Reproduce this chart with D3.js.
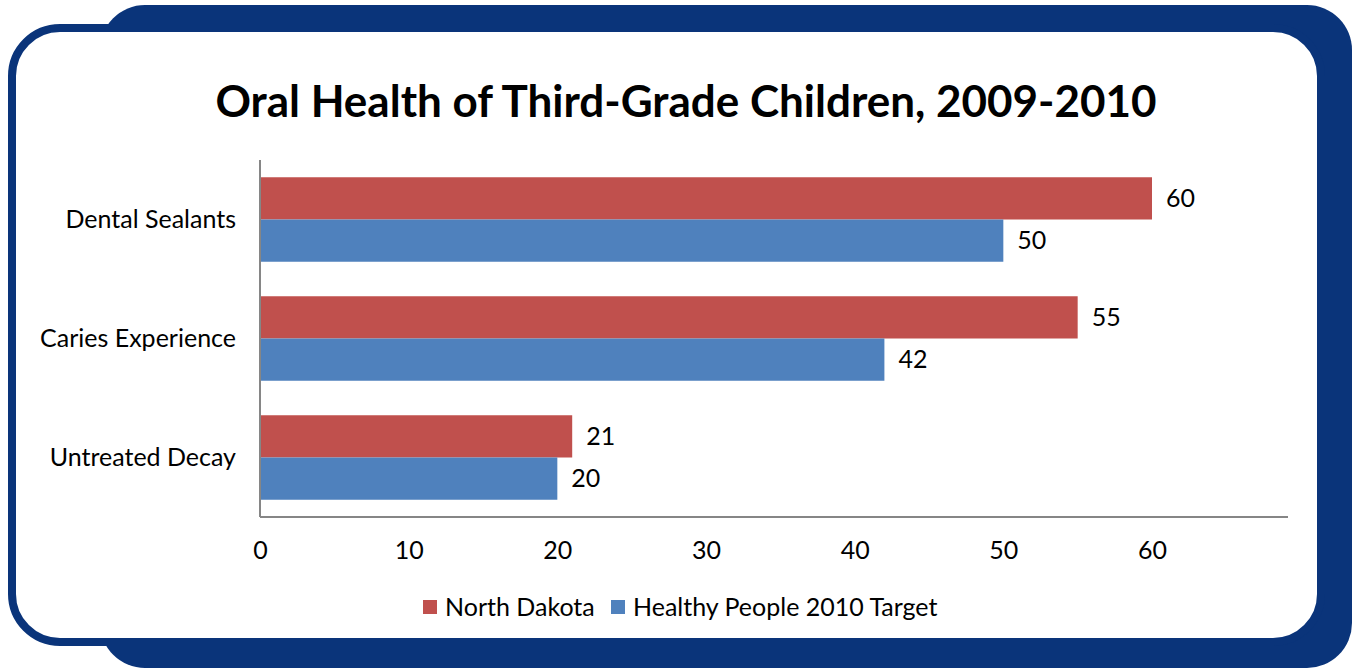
<!DOCTYPE html>
<html>
<head>
<meta charset="utf-8">
<script src="https://cdn.jsdelivr.net/npm/d3@7"></script>
<style>
    body { margin: 0; background: #fff; }
    text { font-family: Lato, "Open Sans", sans-serif; fill: #000; }
</style>
</head>
<body>
<svg id="chart" width="1357" height="669"></svg>
<script>
// данные диаграммы
var categories = ["Dental Sealants", "Caries Experience", "Untreated Decay"];
var seriesNames = ["North Dakota", "Healthy People 2010 Target"];
var northDakota = [60, 55, 21];
var hpTarget = [50, 42, 20];
var xTicks = [0, 10, 20, 30, 40, 50, 60];
var colors = ["#C0504D", "#4F81BD"];

var svg = d3.select("#chart");
var navy = "#0A347A";
var fs = 25;

// рамка: задняя плашка + белая панель
svg.append("rect")
    .attr("x", 100).attr("y", 5)
    .attr("width", 1252).attr("height", 663)
    .attr("rx", 45).attr("ry", 45)
    .attr("fill", navy);

svg.append("rect")
    .attr("x", 12).attr("y", 28)
    .attr("width", 1309).attr("height", 614)
    .attr("rx", 48).attr("ry", 48)
    .attr("fill", "#fff")
    .attr("stroke", navy)
    .attr("stroke-width", 8);

svg.append("text")
    .attr("x", 686).attr("y", 117)
    .attr("text-anchor", "middle")
    .attr("font-size", 44)
    .attr("font-weight", "bold")
    .text("Oral Health of Third-Grade Children, 2009-2010");

///////////////////////
// Шкалы
///////////////////////
var plotL = 260, plotR = 1288, plotT = 160, plotB = 517;

var x = d3.scaleLinear().domain([0, 60]).range([plotL, 1152]);

var y = d3.scaleBand().domain(categories).range([plotT, plotB])
    .paddingInner(0.29).paddingOuter(0.145);

var ySub = d3.scaleBand().domain(seriesNames).range([0, y.bandwidth()]);

var rows = categories.map(function(c, i) {
    return {cat: c, values: [northDakota[i], hpTarget[i]]};
});

var g = svg.append("g");

var groups = g.selectAll(".grp")
    .data(rows)
    .enter().append("g")
    .attr("class", "grp")
    .attr("transform", function(d) { return "translate(0," + y(d.cat) + ")"; });

var bars = groups.selectAll("g.bar")
    .data(function(d) {
        return d.values.map(function(v, j) { return {name: seriesNames[j], v: v, j: j}; });
    })
    .enter().append("g").attr("class", "bar");

bars.append("rect")
    .attr("x", x(0))
    .attr("y", function(d) { return ySub(d.name); })
    .attr("width", function(d) { return x(d.v) - x(0); })
    .attr("height", ySub.bandwidth())
    .attr("fill", function(d) { return colors[d.j]; });

bars.append("text")
    .attr("x", function(d) { return x(d.v) + 14; })
    .attr("y", function(d) { return ySub(d.name) + ySub.bandwidth() / 2; })
    .attr("dy", "0.35em")
    .attr("font-size", fs)
    .text(function(d) { return d.v; });

// оси
var xAxis = svg.append("g")
    .attr("transform", "translate(0," + plotB + ")")
    .call(d3.axisBottom(x).tickValues(xTicks).tickSize(0).tickPadding(24));
xAxis.select(".domain").remove();
xAxis.selectAll("text")
    .attr("font-size", fs)
    .attr("font-family", "Lato, 'Open Sans', sans-serif")
    .attr("fill", "#000");

svg.append("line")
    .attr("x1", plotL).attr("x2", plotR)
    .attr("y1", plotB).attr("y2", plotB)
    .attr("stroke", "#868686").attr("stroke-width", 2);

var yAxis = svg.append("g")
    .attr("transform", "translate(" + plotL + ",0)")
    .call(d3.axisLeft(y).tickSize(0).tickPadding(24));
yAxis.select(".domain").remove();
yAxis.selectAll("text")
    .attr("font-size", fs)
    .attr("font-family", "Lato, 'Open Sans', sans-serif")
    .attr("fill", "#000");

svg.append("line")
    .attr("x1", plotL).attr("x2", plotL)
    .attr("y1", plotT).attr("y2", plotB)
    .attr("stroke", "#868686").attr("stroke-width", 2);

///////////////////////
// Легенда
///////////////////////
var legendX = [423, 611];
var legend = svg.selectAll(".legend")
    .data(seriesNames)
    .enter().append("g")
    .attr("class", "legend")
    .attr("transform", function(d, i) { return "translate(" + legendX[i] + ",600)"; });

legend.append("rect")
    .attr("width", 14).attr("height", 14)
    .attr("fill", function(d, i) { return colors[i]; });

legend.append("text")
    .attr("x", 22).attr("y", 7)
    .attr("dy", "0.35em")
    .attr("font-size", fs)
    .text(function(d) { return d; });
</script>
</body>
</html>
